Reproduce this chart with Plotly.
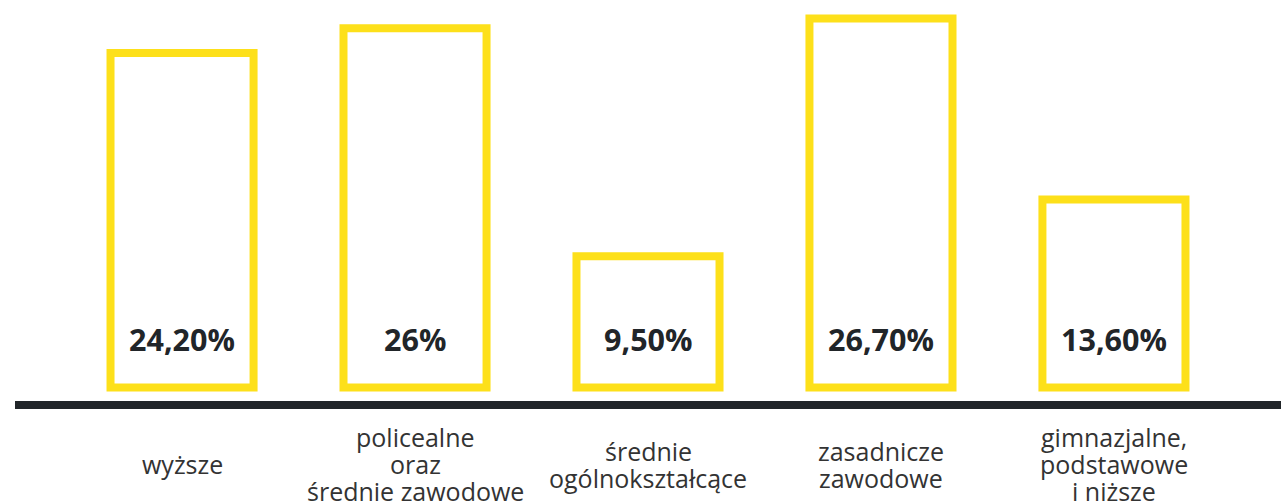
import plotly.graph_objects as go

# kategorie wykształcenia (kolejne wiersze podpisu) i udziały (%)
categories = [
    ["wyższe"],
    ["policealne", "oraz", "średnie zawodowe"],
    ["średnie", "ogólnokształcące"],
    ["zasadnicze", "zawodowe"],
    ["gimnazjalne,", "podstawowe", "i niższe"],
]
values = [24.2, 26.0, 9.5, 26.7, 13.6]
value_labels = ["24,20%", "26%", "9,50%", "26,70%", "13,60%"]

YELLOW = "#FDE01A"
DARK = "#212529"
FONT = "Open Sans, sans-serif"

x_pos = list(range(len(categories)))

fig = go.Figure()
fig.add_trace(go.Bar(
    x=x_pos, y=values,
    width=0.614,
    marker=dict(color="white", line=dict(color=YELLOW, width=8)),
    hoverinfo="skip",
))

# wartości wewnątrz słupków
for i, lab in enumerate(value_labels):
    fig.add_annotation(x=i, y=0, xref="x", yref="y", text=f"<b>{lab}</b>",
                       showarrow=False, yanchor="middle", yshift=48,
                       font=dict(family=FONT, size=30.5, color=DARK))

# podpisy kategorii pod osią (wiersze wyśrodkowane pionowo)
LINE_H = 27
for i, lines in enumerate(categories):
    n = len(lines)
    for k, line in enumerate(lines):
        fig.add_annotation(x=i, y=-0.1457, xref="x", yref="paper", text=line,
                           showarrow=False, yanchor="middle",
                           yshift=((n - 1) / 2 - k) * LINE_H,
                           font=dict(family=FONT, size=25, color="#333"))

# gruba linia bazowa
fig.add_shape(type="line", xref="paper", yref="paper", x0=0, x1=1, y0=0, y1=0,
              line=dict(color=DARK, width=8))

fig.update_layout(
    width=1281, height=503,
    margin=dict(l=15, r=0, t=0, b=98),
    paper_bgcolor="white", plot_bgcolor="white",
    showlegend=False,
)
fig.update_xaxes(range=[-0.717, 4.717], visible=False)
fig.update_yaxes(range=[-1.27, 28.04], visible=False)

# bez domyślnego marginesu strony i bez paska narzędzi
fig.write_html("out.html", config={"displayModeBar": False},
               post_script="document.body.style.margin='0';")
